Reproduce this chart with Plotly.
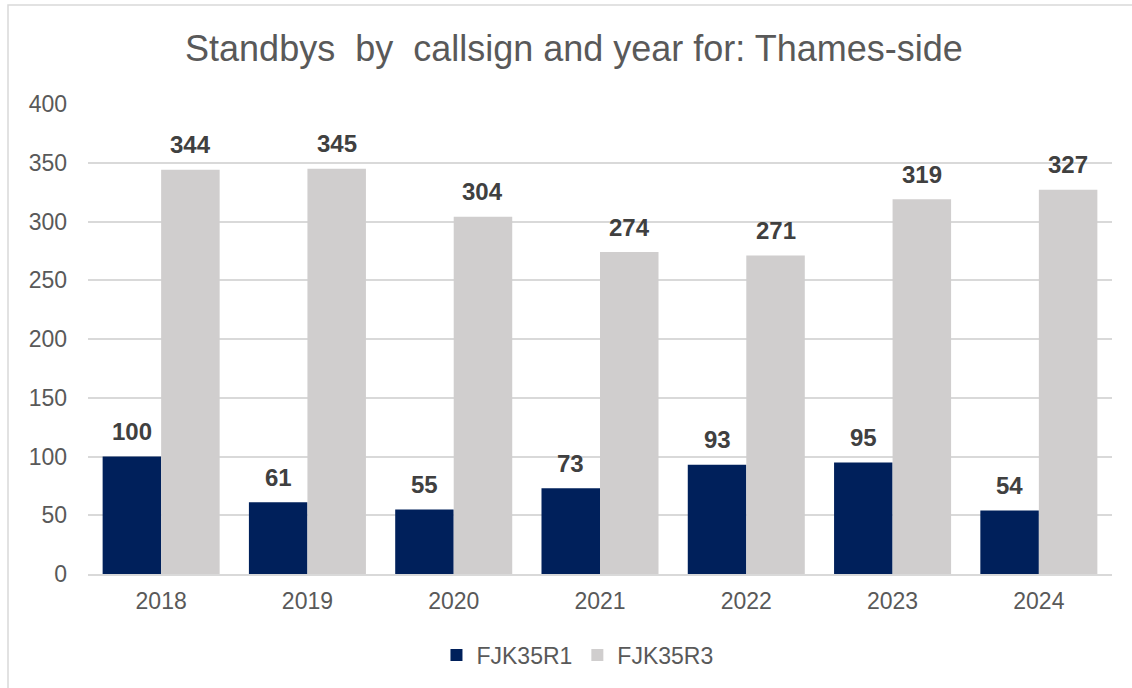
import plotly.graph_objects as go

years = ["2018", "2019", "2020", "2021", "2022", "2023", "2024"]
r1_values = [100, 61, 55, 73, 93, 95, 54]
r3_values = [344, 345, 304, 274, 271, 319, 327]
series_names = ["FJK35R1", "FJK35R3"]
series_colors = ["#00205b", "#d0cece"]
y_ticks = [0, 50, 100, 150, 200, 250, 300, 350, 400]

FONT = "Liberation Sans, Arial, sans-serif"
TEXT_GREY = "#595959"
LABEL_GREY = "#404040"

L, R, T, B = 88, 1112, 104, 574
pw, ph = R - L, B - T
BARGAP = 0.2
cat_px = pw / len(years)
bar_px = cat_px * (1 - BARGAP) / 2


def px_x(p):
    return (p - L) / pw


def px_y(p):
    return (B - p) / ph


fig = go.Figure()
for name, vals, color in zip(series_names, [r1_values, r3_values], series_colors):
    fig.add_trace(go.Bar(
        x=years, y=vals, name=name,
        marker=dict(color=color, line=dict(width=0)),
    ))

# value labels above each bar (category index on the x axis)
for i, vals in enumerate([r1_values, r3_values]):
    shift = (i - 0.5) * bar_px
    for j, v in enumerate(vals):
        fig.add_annotation(
            x=j, y=v, xref="x", yref="y", text=str(v), showarrow=False,
            xshift=shift, yshift=25, yanchor="middle", xanchor="center",
            font=dict(family=FONT, size=24, color=LABEL_GREY, weight="bold"),
        )

fig.update_layout(
    width=1132, height=688,
    margin=dict(l=L, r=1132 - R, t=T, b=688 - B),
    paper_bgcolor="white", plot_bgcolor="white",
    barmode="group", bargap=BARGAP, bargroupgap=0.0,
    title=dict(text="Standbys  by  callsign and year for: Thames-side",
               x=0.507, xanchor="center", y=1 - 48 / 688, yanchor="middle",
               font=dict(family=FONT, size=36, color=TEXT_GREY)),
    font=dict(family=FONT, size=23, color=TEXT_GREY),
    xaxis=dict(type="category", categoryorder="array", categoryarray=years,
               range=[-0.5, len(years) - 0.5], showgrid=False, showline=True,
               linecolor="#d9d9d9", linewidth=1.5,
               ticks="", ticklabelstandoff=6,
               tickfont=dict(size=23, color=TEXT_GREY)),
    yaxis=dict(range=[0, 400], tickvals=y_ticks, showgrid=True,
               gridcolor="#d9d9d9", gridwidth=1.5, zeroline=False,
               ticks="", ticklabelstandoff=20,
               tickfont=dict(size=23, color=TEXT_GREY)),
    legend=dict(orientation="h", x=0.478, xanchor="center",
                y=px_y(655), yanchor="middle",
                font=dict(size=23, color=TEXT_GREY),
                itemwidth=30, traceorder="normal"),
    showlegend=True,
)

# chart frame (left and top edges)
fig.add_shape(type="rect", xref="paper", yref="paper",
              x0=px_x(8), x1=px_x(1145), y0=px_y(5), y1=px_y(700),
              line=dict(color="#d9d9d9", width=1.5), fillcolor="rgba(0,0,0,0)",
              layer="below")

fig.write_html("out.html")
